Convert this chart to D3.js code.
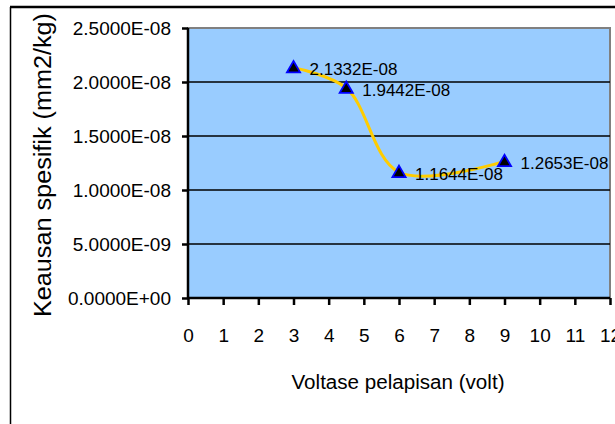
<!DOCTYPE html>
<html>
<head>
<meta charset="utf-8">
<script src="https://cdn.jsdelivr.net/npm/d3@7"></script>
<style>
  html, body { margin: 0; padding: 0; background: #ffffff; }
  svg { display: block; font-family: Arial, "Liberation Sans", sans-serif; }
</style>
</head>
<body>
<svg id="chart" width="615" height="424"></svg>
<script>
// Wear rate versus coating voltage
const voltages = [3, 4.5, 6, 9];
const wearRates = [2.1332e-8, 1.9442e-8, 1.1644e-8, 1.2653e-8];
const xTicks = [0, 1, 2, 3, 4, 5, 6, 7, 8, 9, 10, 11, 12];
const yTicks = [0, 5e-9, 1e-8, 1.5e-8, 2e-8, 2.5e-8];
const xTitle = "Voltase pelapisan (volt)";
const yTitle = "Keausan spesifik  (mm2/kg)";

const FONT = "Arial, 'Liberation Sans', sans-serif";

// Excel-style scientific notation, e.g. 2.5000E-08
function sci(v) {
  const [m, e] = v.toExponential(4).split("e");
  const n = parseInt(e, 10);
  return m + "E" + (n < 0 ? "-" : "+") + String(Math.abs(n)).padStart(2, "0");
}

const svg = d3.select("#chart");
const plot = { left: 188, right: 610, top: 28, bottom: 298 };

const x = d3.scaleLinear().domain([0, 12]).range([plot.left, plot.right]);
const y = d3.scaleLinear().domain([0, 2.5e-8]).range([plot.bottom, plot.top]);

// chart frame
svg.append("line").attr("x1", 10).attr("x2", 615).attr("y1", 7).attr("y2", 7)
  .attr("stroke", "#000").attr("stroke-width", 2.5);
svg.append("line").attr("x1", 10.5).attr("x2", 10.5).attr("y1", 7).attr("y2", 424)
  .attr("stroke", "#000").attr("stroke-width", 1.5);

// plot area
svg.append("rect")
  .attr("x", plot.left).attr("y", plot.top)
  .attr("width", plot.right - plot.left).attr("height", plot.bottom - plot.top)
  .attr("fill", "#99ccff").attr("stroke", "#808080").attr("stroke-width", 2);

// horizontal gridlines
svg.append("g")
  .selectAll("line")
  .data(yTicks.filter(t => t > 0 && t < 2.5e-8))
  .join("line")
  .attr("x1", plot.left).attr("x2", plot.right)
  .attr("y1", d => y(d)).attr("y2", d => y(d))
  .attr("stroke", "#000").attr("stroke-width", 1.5);

// y axis
const yAxis = svg.append("g")
  .attr("transform", `translate(${plot.left},0)`)
  .call(d3.axisLeft(y).tickValues(yTicks).tickFormat(sci).tickSize(6).tickPadding(11));
yAxis.select(".domain").remove();
yAxis.selectAll(".tick line").attr("stroke", "#000").attr("stroke-width", 2.5);
yAxis.selectAll(".tick text")
  .attr("fill", "#000").attr("font-size", 19).attr("font-family", FONT);
yAxis.append("line").attr("x1", 0).attr("x2", 0).attr("y1", plot.top).attr("y2", plot.bottom + 1)
  .attr("stroke", "#000").attr("stroke-width", 2.5);

// x axis
const xAxis = svg.append("g")
  .attr("transform", `translate(0,${plot.bottom})`)
  .call(d3.axisBottom(x).tickValues(xTicks).tickFormat(d3.format("d")).tickSize(7).tickPadding(24));
xAxis.select(".domain").remove();
xAxis.selectAll(".tick line").attr("stroke", "#000").attr("stroke-width", 2.5);
xAxis.selectAll(".tick text")
  .attr("fill", "#000").attr("font-size", 19).attr("font-family", FONT);
xAxis.append("line").attr("x1", plot.left - 1).attr("x2", plot.right).attr("y1", 0).attr("y2", 0)
  .attr("stroke", "#000").attr("stroke-width", 2.5);

// axis titles
svg.append("text")
  .attr("x", 398).attr("y", 382)
  .attr("text-anchor", "middle").attr("dominant-baseline", "central")
  .attr("font-size", 20).attr("textLength", 213).attr("lengthAdjust", "spacingAndGlyphs")
  .attr("fill", "#000").attr("font-family", FONT)
  .text(xTitle);

svg.append("text")
  .attr("transform", "translate(43,165) rotate(-90)")
  .attr("text-anchor", "middle").attr("dominant-baseline", "central")
  .attr("font-size", 23).attr("textLength", 304).attr("lengthAdjust", "spacingAndGlyphs")
  .attr("fill", "#000").attr("font-family", FONT)
  .text(yTitle);

const pts = voltages.map((v, i) => ({ v, w: wearRates[i] }));

// smoothed series line
svg.append("path")
  .datum(pts)
  .attr("fill", "none")
  .attr("stroke", "#ffcc00")
  .attr("stroke-width", 3)
  .attr("d", d3.line().x(d => x(d.v)).y(d => y(d.w)).curve(d3.curveCatmullRom.alpha(0.5)));

// triangle markers
const tri = d3.symbol().type(d3.symbolTriangle).size(75);
svg.append("g")
  .selectAll("path")
  .data(pts)
  .join("path")
  .attr("transform", d => `translate(${x(d.v)},${y(d.w) + 1})`)
  .attr("d", tri)
  .attr("fill", "#000")
  .attr("stroke", "#0000ff")
  .attr("stroke-width", 1.8);

// value labels
svg.append("g")
  .selectAll("text")
  .data(pts)
  .join("text")
  .attr("x", d => x(d.v) + 16)
  .attr("y", d => y(d.w) + 2)
  .attr("dominant-baseline", "central")
  .attr("font-size", 17).attr("font-family", FONT)
  .attr("fill", "#000")
  .text(d => sci(d.w));
</script>
</body>
</html>
